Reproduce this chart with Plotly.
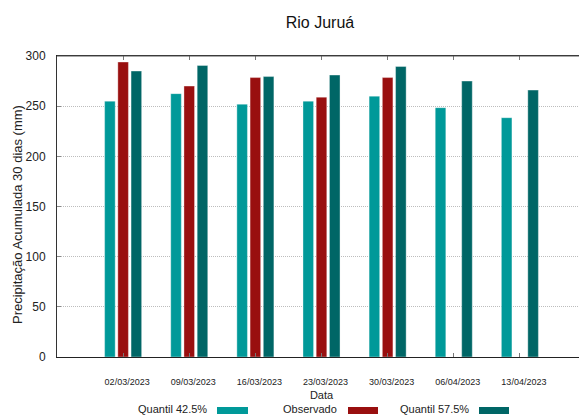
import plotly.graph_objects as go

categories = ["02/03/2023", "09/03/2023", "16/03/2023", "23/03/2023", "30/03/2023", "06/04/2023", "13/04/2023"]
quantil_425 = [255, 262.5, 252, 255, 260, 248.5, 238.5]
observado = [294, 270, 278.5, 259, 278.5, None, None]
quantil_575 = [285, 290.5, 279.5, 281, 289.5, 275, 266]
series_names = ["Quantil 42.5%", "Observado", "Quantil 57.5%"]
series_colors = ["#009999", "#990F0F", "#006666"]
yticks = [0, 50, 100, 150, 200, 250, 300]

FONT = "Liberation Sans"
OFF = 8  # page body margin
W, H = 587 - OFF, 415 - OFF
# plot area in page pixels: x 57..586, y 56..357
L, R, T, B = 57 - OFF, 587 - 586, 56 - OFF, 415 - 357

fig = go.Figure()
for name, vals, col in zip(series_names, [quantil_425, observado, quantil_575], series_colors):
    fig.add_trace(go.Bar(x=list(range(len(categories))), y=vals, name=name,
                         marker=dict(color=col, line=dict(width=0.6, color="rgba(255,255,255,0.6)")),
                         showlegend=False))

pw = W - L - R
ph = H - T - B
def px2paper_x(px):
    return (px - OFF - L) / pw
def px2paper_y(py):
    return (H - B - (py - OFF)) / ph

# legend: text then swatch (page pixel positions)
leg_text_right = [208, 338, 470]
leg_sw = [(217, 248), (348, 378), (479, 509)]
for name, col, tr, (s0, s1) in zip(series_names, series_colors, leg_text_right, leg_sw):
    fig.add_annotation(text=name, xref="paper", yref="paper", x=px2paper_x(tr), y=px2paper_y(408.5),
                       xanchor="right", yanchor="middle", showarrow=False,
                       font=dict(family=FONT, size=11, color="#222"), borderpad=0)
    fig.add_shape(type="rect", xref="paper", yref="paper",
                  x0=px2paper_x(s0), x1=px2paper_x(s1), y0=px2paper_y(414), y1=px2paper_y(407),
                  fillcolor=col, line=dict(width=0))

# y-axis title
fig.add_annotation(text="Precipitação Acumulada 30 dias (mm)", xref="paper", yref="paper",
                   x=px2paper_x(17), y=px2paper_y(215), xanchor="center", yanchor="middle",
                   textangle=-90, showarrow=False, borderpad=0,
                   font=dict(family=FONT, size=13, color="#222"))

fig.update_layout(
    width=W, height=H,
    margin=dict(l=L, r=R, t=T, b=B, autoexpand=False),
    paper_bgcolor="white", plot_bgcolor="white",
    barmode="group", bargap=0.4, bargroupgap=0.2,
    title=dict(text="Rio Juruá", x=(320 - OFF) / W, xanchor="center", y=1 - (22 - OFF) / H, yanchor="middle",
               font=dict(family=FONT, size=16, color="#111")),
    font=dict(family=FONT, color="#222"),
)
fig.update_xaxes(
    range=[-1, 7], tickmode="array", tickvals=list(range(len(categories))), ticktext=categories,
    tickfont=dict(family=FONT, size=9, color="#222"),
    ticks="inside", ticklen=4, tickcolor="#777", mirror="ticks",
    showline=True, linecolor="#222", linewidth=1,
    showgrid=False, zeroline=False, automargin=False,
    ticklabelstandoff=16, ticklabelshift=4,
    title=dict(text="Data", font=dict(family=FONT, size=11, color="#222"), standoff=5),
)
fig.update_yaxes(
    range=[0, 300], tickmode="array", tickvals=yticks,
    tickfont=dict(family=FONT, size=12, color="#222"),
    ticks="inside", ticklen=4, tickcolor="#888", mirror="ticks",
    showline=True, linecolor="#333", linewidth=1,
    showgrid=True, gridcolor="#bdbdbd", griddash="1px,1px", gridwidth=1,
    zeroline=False, ticklabelstandoff=8, automargin=False,
)
# top frame line
fig.add_shape(type="line", xref="paper", yref="paper", x0=0, x1=1, y0=1, y1=1,
              line=dict(color="#555", width=1))

fig.write_html("out.html")
